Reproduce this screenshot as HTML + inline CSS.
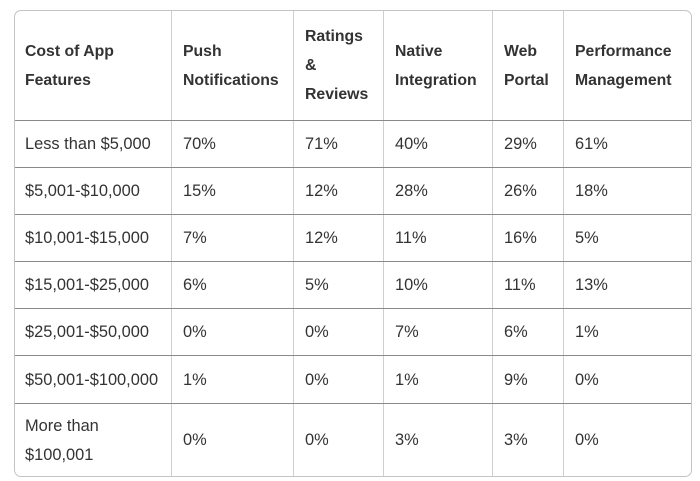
<!DOCTYPE html>
<html><head><style>
body{margin:0;width:700px;height:481px;background:#fff;font-family:"Liberation Sans",sans-serif;color:#333;position:relative;overflow:hidden}
.box{position:absolute;left:14px;top:10px;width:676px;height:465px;border:1px solid #c4c4c4;border-radius:7px}
.v{position:absolute;top:11px;height:465px;width:1px;background:#cfcfcf}
.h{position:absolute;left:15px;width:676px;height:1px;background:#8a8a8a}
.t{position:absolute;font-size:16.4px;line-height:29px;white-space:nowrap}
.b{font-weight:bold;font-size:15.8px}
</style></head><body>
<div class="box"></div>
<div class="v" style="left:171px"></div><div class="v" style="left:293px"></div><div class="v" style="left:383px"></div><div class="v" style="left:492px"></div><div class="v" style="left:563px"></div>
<div class="h" style="top:120px"></div><div class="h" style="top:167px"></div><div class="h" style="top:214px"></div><div class="h" style="top:261px"></div><div class="h" style="top:308px"></div><div class="h" style="top:355px"></div><div class="h" style="top:403px"></div>
<div class="t b" style="left:25px;top:37px">Cost of App<br>Features</div>
<div class="t b" style="left:183px;top:37px">Push<br>Notifications</div>
<div class="t b" style="left:305px;top:22px">Ratings<br>&amp;<br>Reviews</div>
<div class="t b" style="left:395px;top:37px">Native<br>Integration</div>
<div class="t b" style="left:504px;top:37px">Web<br>Portal</div>
<div class="t b" style="left:575px;top:37px">Performance<br>Management</div>
<div id="rows"></div>
<script>
var d=[["Less than $5,000","70%","71%","40%","29%","61%"],["$5,001-$10,000","15%","12%","28%","26%","18%"],["$10,001-$15,000","7%","12%","11%","16%","5%"],["$15,001-$25,000","6%","5%","10%","11%","13%"],["$25,001-$50,000","0%","0%","7%","6%","1%"],["$50,001-$100,000","1%","0%","1%","9%","0%"]];
var xs=[25,183,305,395,504,575],h="";
d.forEach(function(r,i){r.forEach(function(c,j){h+='<div class="t" style="left:'+xs[j]+'px;top:'+(129.5+i*47.2)+'px">'+c+'</div>';});});
h+='<div class="t" style="left:25px;top:412px">More than<br>$100,001</div>';
["0%","0%","3%","3%","0%"].forEach(function(c,j){h+='<div class="t" style="left:'+xs[j+1]+'px;top:426px">'+c+'</div>';});
document.getElementById("rows").innerHTML=h;
</script>
</body></html>
